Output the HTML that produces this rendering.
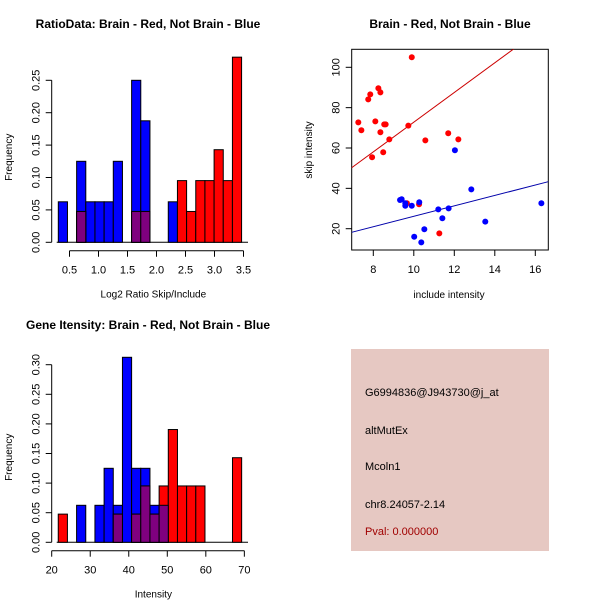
<!DOCTYPE html>
<html><head><meta charset="utf-8"><style>
html,body{margin:0;padding:0;background:#fff}
svg{display:block;font-family:"Liberation Sans","DejaVu Sans",sans-serif}
</style></head><body>
<svg id="svg" width="600" height="600" viewBox="0 0 600 600">
<g id="p1"></g>
<g id="p2"></g>
<g id="p3"></g>
<g>
<rect x="351" y="349" width="198" height="202" fill="#e6c8c2"/>
<text x="365" y="396" font-size="11">G6994836@J943730@j_at</text>
<text x="365" y="434" font-size="11">altMutEx</text>
<text x="365" y="470" font-size="11">Mcoln1</text>
<text x="365" y="508" font-size="11">chr8.24057-2.14</text>
<text x="365" y="535" font-size="11" fill="#a00000">Pval: 0.000000</text>
</g>
</svg>
<script>
// ---- Ratio histogram data ----
const ratioBinStart = 0.307;
const ratioBinWidth = 0.158;
const ratioBlue = [0.0625,0,0.125,0.0625,0.0625,0.0625,0.125,0,0.25,0.1875,0,0,0.0625,0,0,0,0,0,0,0];
const ratioRed  = [0,0,0.0476,0,0,0,0,0,0.0476,0.0476,0,0,0,0.0952,0.0476,0.0952,0.0952,0.1429,0.0952,0.2857];
const ratioXTicks = [0.5,1.0,1.5,2.0,2.5,3.0,3.5];
const ratioYTicks = [0.00,0.05,0.10,0.15,0.20,0.25];
// ---- Intensity histogram data ----
const intBinStart = 21.7;
const intBinWidth = 2.38;
const intBlue = [0,0,0.0625,0,0.0625,0.125,0.0625,0.3125,0.125,0.125,0.0625,0.0625,0,0,0,0,0,0,0,0];
const intRed  = [0.0476,0,0,0,0,0,0.0476,0,0.0476,0.0952,0.0476,0.0952,0.1905,0.0952,0.0952,0.0952,0,0,0,0.1429];
const intXTicks = [20,30,40,50,60,70];
const intYTicks = [0.00,0.05,0.10,0.15,0.20,0.25,0.30];
// ---- Scatter data ----
const redInclude = [7.26,7.41,7.75,7.85,7.94,8.10,8.25,8.35,8.35,8.49,8.54,8.61,8.79,9.73,9.90,10.57,11.70,12.20,10.26,9.66,11.26];
const redSkip    = [72.7,68.8,84.1,86.6,55.4,73.2,89.6,87.6,67.8,57.9,71.7,71.7,64.3,71.1,105,63.8,67.3,64.3,32.1,32.6,17.7];
const blueInclude = [9.32,9.40,9.58,9.58,9.90,10.27,12.03,12.84,16.30,11.21,11.72,11.41,10.52,10.02,10.37,13.53];
const blueSkip    = [34.2,34.6,32.6,31.4,31.4,33.1,58.9,39.5,32.6,29.6,30.1,25.2,19.7,16.0,13.2,23.5];
const redFit = [-0.8,7.36];   // intercept, slope
const blueFit = [0.29,2.585];
const scatXTicks = [8,10,12,14,16];
const scatYTicks = [20,40,60,80,100];

const NS="http://www.w3.org/2000/svg";
function mk(parent,tag,attrs){const e=document.createElementNS(NS,tag);for(const k in attrs)e.setAttribute(k,attrs[k]);parent.appendChild(e);return e;}
function txt(parent,x,y,s,size,anchor,rot,bold){const t=mk(parent,'text',{x:x,y:y,'font-size':size,'text-anchor':anchor||'middle'});if(rot)t.setAttribute('transform','rotate(-90 '+x+' '+y+')');if(bold)t.setAttribute('font-weight','bold');t.textContent=s;return t;}

function hist(g,o){
  const sx=v=>o.x0+(v-o.v0)*o.kx, sy=v=>o.y0-v*o.ky;
  const fmt=o.fmtX;
  txt(g,o.titleX,o.titleY,o.title,12,'middle',false,true);
  // y axis
  const ya=mk(g,'line',{x1:o.axX,x2:o.axX,y1:sy(o.yt[0]),y2:sy(o.yt[o.yt.length-1]),stroke:'#000'});
  
  o.yt.forEach(v=>{mk(g,'line',{x1:o.axX-6,x2:o.axX,y1:sy(v),y2:sy(v),stroke:'#000'});
    const t=txt(g,o.axX-12,sy(v),v.toFixed(2),11,'middle',true);});
  const yl=txt(g,12,o.y0-85,'Frequency',10,'middle',true);
  // x axis
  const xa=mk(g,'line',{x1:sx(o.xt[0]),x2:sx(o.xt[o.xt.length-1]),y1:o.axY,y2:o.axY,stroke:'#000'});
  
  o.xt.forEach(v=>{mk(g,'line',{x1:sx(v),x2:sx(v),y1:o.axY,y2:o.axY+6,stroke:'#000'});
    const t=txt(g,sx(v),o.axY+23,fmt(v),11);});
  const xl=txt(g,(o.axX+245)/2+5,o.axY+47,o.xlab,10);
  // baseline
  mk(g,'line',{x1:o.axX+5,x2:248,y1:o.y0,y2:o.y0,stroke:'#000'});
  const bar=(i,v,col,name)=>{if(v<=0)return;const a=sx(o.bs+i*o.bw),b=sx(o.bs+(i+1)*o.bw);
    const r=mk(g,'rect',{x:a,y:sy(v),width:b-a,height:o.y0-sy(v),fill:col,stroke:'#000','stroke-width':1});
    };
  o.blue.forEach((v,i)=>bar(i,v,'#0000ff','bar-not-brain'));
  o.red.forEach((v,i)=>bar(i,v,'#ff0000','bar-brain'));
  o.blue.forEach((v,i)=>{if(v>0&&o.red[i]>0)bar(i,Math.min(v,o.red[i]),'#7f007f','bar-overlap');});
}
hist(document.getElementById('p1'),{title:'RatioData: Brain - Red, Not Brain - Blue',titleX:148,titleY:28,
  v0:0.5,x0:69.5,kx:58,y0:242.3,ky:648,axX:51.7,axY:250.7,xt:ratioXTicks,yt:ratioYTicks,
  fmtX:v=>v.toFixed(1),xlab:'Log2 Ratio Skip/Include',bs:ratioBinStart,bw:ratioBinWidth,blue:ratioBlue,red:ratioRed});
hist(document.getElementById('p3'),{title:'Gene Itensity: Brain - Red, Not Brain - Blue',titleX:148,titleY:329,
  v0:20,x0:51.7,kx:3.853,y0:542.3,ky:592,axX:51.7,axY:550.7,xt:intXTicks,yt:intYTicks,
  fmtX:v=>String(v),xlab:'Intensity',bs:intBinStart,bw:intBinWidth,blue:intBlue,red:intRed});

// scatter
(function(){
  const g=document.getElementById('p2');
  const sx=v=>373.3+(v-8)*20.25, sy=v=>228.7-(v-20)*2.0175;
  const L=351.7,R=548.3,T=49.3,B=250;
  txt(g,450,28,'Brain - Red, Not Brain - Blue',12,'middle',false,true);
  const box=mk(g,'rect',{x:L,y:T,width:R-L,height:B-T,fill:'none',stroke:'#000'});
  
  scatXTicks.forEach(v=>{mk(g,'line',{x1:sx(v),x2:sx(v),y1:B,y2:B+6,stroke:'#000'});
    const t=txt(g,sx(v),B+23,String(v),11);});
  scatYTicks.forEach(v=>{mk(g,'line',{x1:L-6,x2:L,y1:sy(v),y2:sy(v),stroke:'#000'});
    const t=txt(g,L-12,sy(v),String(v),11,'middle',true);});
  const xl=txt(g,449,298,'include intensity',10);
  const yl=txt(g,312,150,'skip intensity',10,'middle',true);
  const clip=mk(g,'clipPath',{id:'sc'});mk(clip,'rect',{x:L,y:T,width:R-L,height:B-T});
  const line=(f,col,name)=>{const x1=6.93,x2=16.64;const l=mk(g,'line',{x1:sx(x1),x2:sx(x2),y1:sy(f[0]+f[1]*x1),y2:sy(f[0]+f[1]*x2),stroke:col,'clip-path':'url(#sc)'});
    };
  line(redFit,'#cc0000','brain-fit-line');
  line(blueFit,'#0000aa','not-brain-fit-line');
  redInclude.forEach((x,i)=>{const c=mk(g,'circle',{cx:sx(x),cy:sy(redSkip[i]),r:3,fill:'#ff0000'});
    });
  blueInclude.forEach((x,i)=>{const c=mk(g,'circle',{cx:sx(x),cy:sy(blueSkip[i]),r:3,fill:'#0000ff'});
    });
})();
</script>
</body></html>
